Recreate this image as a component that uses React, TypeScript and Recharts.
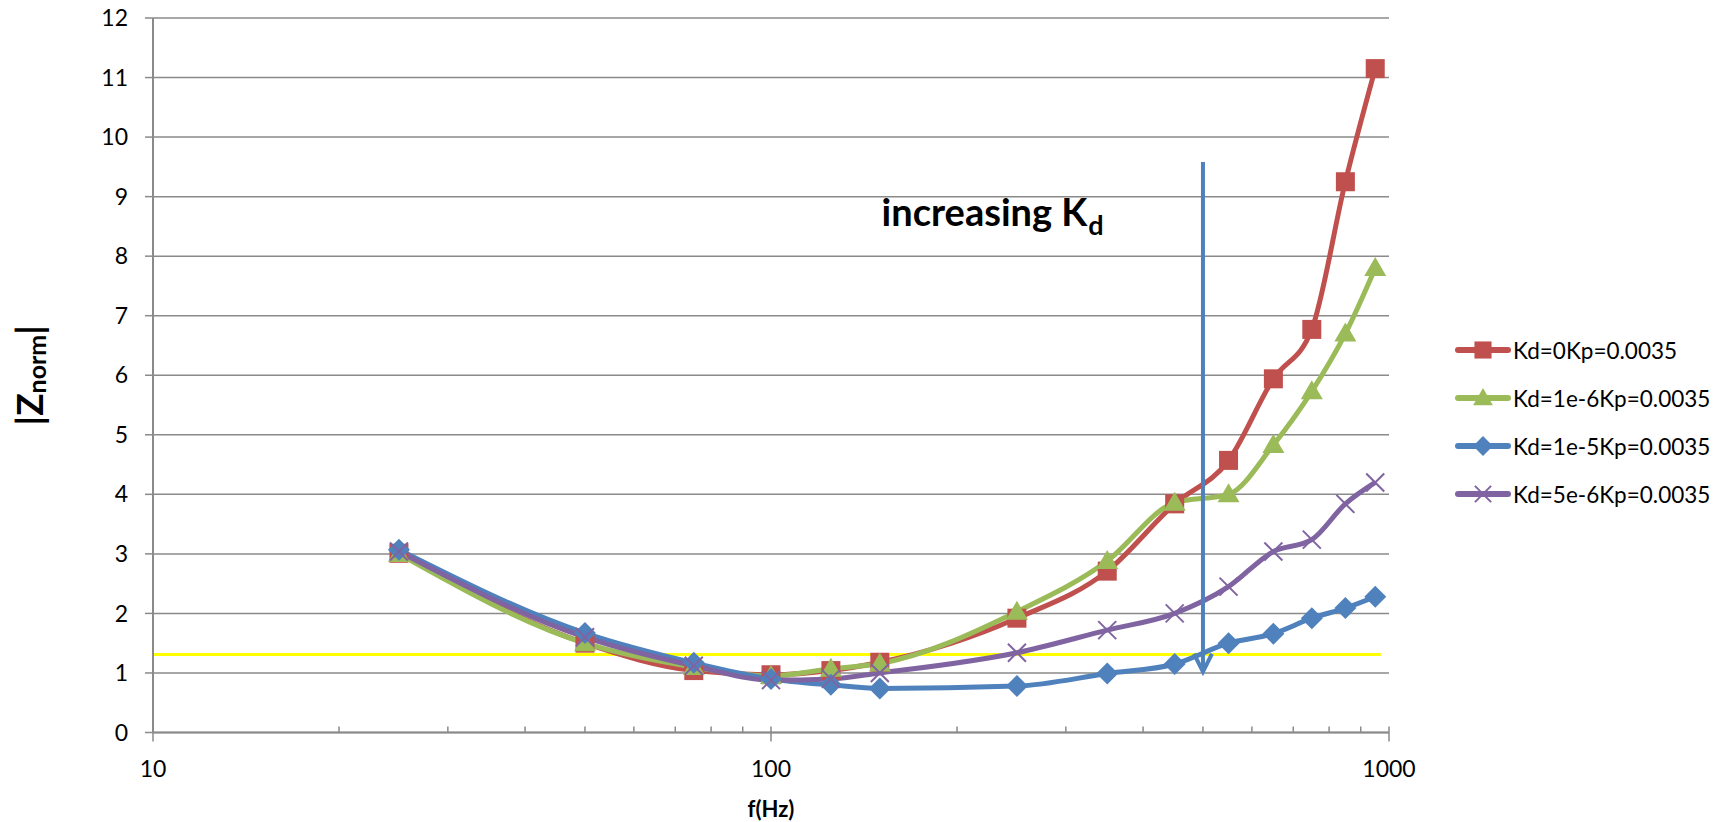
import React from "react";
import {
  LineChart,
  Line,
  XAxis,
  YAxis,
  CartesianGrid,
  ReferenceLine,
  ReferenceDot,
  Legend,
} from "recharts";

const freqs = [25, 50, 75, 100, 125, 150, 250, 350, 450, 550, 650, 750, 850, 950];
const kd0 = [3.01, 1.5, 1.04, 0.97, 1.04, 1.18, 1.92, 2.71, 3.84, 4.57, 5.94, 6.77, 9.25, 11.15];
const kd1e6 = [3.0, 1.5, 1.1, 0.95, 1.07, 1.16, 2.03, 2.88, 3.86, 4.0, 4.83, 5.73, 6.7, 7.8];
const kd1e5 = [3.07, 1.67, 1.17, 0.9, 0.8, 0.74, 0.78, 0.99, 1.15, 1.5, 1.66, 1.92, 2.09, 2.28];
const kd5e6 = [3.04, 1.6, 1.12, 0.88, 0.9, 1.0, 1.34, 1.72, 2.0, 2.45, 3.04, 3.24, 3.84, 4.2];

const seriesNames = [
  "Kd=0Kp=0.0035",
  "Kd=1e-6Kp=0.0035",
  "Kd=1e-5Kp=0.0035",
  "Kd=5e-6Kp=0.0035",
];

const xTicks = [10, 20, 30, 40, 50, 60, 70, 80, 90, 100, 200, 300, 400, 500, 600, 700, 800, 900, 1000];
const xMajor = [10, 100, 1000];
const yTicks = [0, 1, 2, 3, 4, 5, 6, 7, 8, 9, 10, 11, 12];

// yellow limit line and the "increasing Kd" arrow
const limitLevel = 1.31;
const limitEnd = 970;
const arrowFreq = 500;
const arrowTop = 9.58;
const arrowBottom = 1.02;
const noteFreq = 151;
const noteLevel = 8.5;

const FONT = "Lato, 'Open Sans', sans-serif";
const GRID = "#8a8a8a";
const COLORS = ["#C0504D", "#9BBB59", "#4F81BD", "#8064A2"];

const rows = freqs.map((f, i) => ({
  f,
  s0: kd0[i],
  s1: kd1e6[i],
  s2: kd1e5[i],
  s3: kd5e6[i],
}));

function Marker({ kind, cx, cy, color, s = 1 }: { kind: number; cx: number; cy: number; color: string; s?: number }) {
  if (kind === 0)
    return <rect x={cx - 9.5 * s} y={cy - 9.5 * s} width={19 * s} height={19 * s} fill={color} />;
  if (kind === 1)
    return (
      <polygon
        points={`${cx},${cy - 11 * s} ${cx + 11 * s},${cy + 8 * s} ${cx - 11 * s},${cy + 8 * s}`}
        fill={color}
      />
    );
  if (kind === 2)
    return (
      <polygon
        points={`${cx},${cy - 11 * s} ${cx + 11 * s},${cy} ${cx},${cy + 11 * s} ${cx - 11 * s},${cy}`}
        fill={color}
      />
    );
  return (
    <g stroke={color} strokeWidth={2}>
      <line x1={cx - 9 * s} y1={cy - 9 * s} x2={cx + 9 * s} y2={cy + 9 * s} />
      <line x1={cx - 9 * s} y1={cy + 9 * s} x2={cx + 9 * s} y2={cy - 9 * s} />
    </g>
  );
}

const dotFor = (kind: number) => (p: any) =>
  <Marker key={`m${kind}-${p.index}`} kind={kind} cx={p.cx} cy={p.cy} color={COLORS[kind]} />;

function FreqTick({ x, y, payload }: any) {
  const v = payload.value;
  const major = xMajor.includes(v);
  return (
    <g>
      <line x1={x} x2={x} y1={y - 6} y2={major ? y + 9 : y} stroke={GRID} strokeWidth={1.5} />
      {major && (
        <text x={x} y={y + 44} textAnchor="middle" fontSize={23} fontFamily={FONT} fill="#000">
          {v}
        </text>
      )}
    </g>
  );
}

function XTitle({ viewBox }: any) {
  return (
    <text
      x={viewBox.x + viewBox.width / 2}
      y={viewBox.y + 76}
      textAnchor="middle"
      dominantBaseline="central"
      fontSize={22}
      fontWeight="bold"
      fontFamily={FONT}
      fill="#000"
    >
      f(Hz)
    </text>
  );
}

function YTitle({ viewBox }: any) {
  const cx = viewBox.x + 28;
  const cy = viewBox.y + viewBox.height / 2;
  return (
    <text
      x={cx}
      y={cy}
      transform={`rotate(-90, ${cx}, ${cy})`}
      textAnchor="middle"
      dominantBaseline="central"
      fontSize={37}
      fontWeight="bold"
      fontFamily={FONT}
      fill="#000"
    >
      |Z
      <tspan fontSize={25} dy={8}>norm</tspan>
      <tspan dy={-8}>|</tspan>
    </text>
  );
}

function Arrow(p: any) {
  const { x1, y1, x2, y2 } = p;
  return (
    <g stroke={COLORS[2]} strokeWidth={4} fill="none">
      <line x1={x1} y1={y1} x2={x2} y2={y2} />
      <polyline points={`${x2 - 9},${y2 - 18} ${x2},${y2} ${x2 + 9},${y2 - 18}`} />
    </g>
  );
}

function Note(p: any) {
  return (
    <text x={p.cx} y={p.cy} fontSize={38} fontWeight="bold" fontFamily={FONT} fill="#000">
      increasing K
      <tspan fontSize={27} dy={9} dx={1}>d</tspan>
    </text>
  );
}

function LegendBox() {
  return (
    <div style={{ fontFamily: FONT, fontSize: 22.5, color: "#000" }}>
      {seriesNames.map((name, i) => (
        <div key={name} style={{ display: "flex", alignItems: "center", height: 48 }}>
          <svg width={56} height={24} style={{ display: "block" }}>
            <line x1={3} y1={12} x2={53} y2={12} stroke={COLORS[i]} strokeWidth={6} strokeLinecap="round" />
            <Marker kind={i} cx={28} cy={12} color={COLORS[i]} s={0.9} />
          </svg>
          <span style={{ marginLeft: 2, whiteSpace: "nowrap" }}>{name}</span>
        </div>
      ))}
    </div>
  );
}

export default function App() {
  return (
    <div style={{ position: "absolute", left: 0, top: 0, width: 1735, height: 822, background: "#fff" }}>
      <LineChart width={1735} height={822} data={rows} margin={{ top: 18, right: 346, bottom: 0, left: 0 }}>
        <CartesianGrid vertical={false} stroke={GRID} strokeWidth={1.5} />
        <XAxis
          dataKey="f"
          type="number"
          scale="log"
          domain={[10, 1000]}
          allowDataOverflow
          ticks={xTicks}
          interval={0}
          tickSize={0}
          tickMargin={0}
          tickLine={false}
          tick={<FreqTick />}
          axisLine={{ stroke: GRID, strokeWidth: 2 }}
          height={89.5}
          label={<XTitle />}
        />
        <YAxis
          type="number"
          domain={[0, 12]}
          ticks={yTicks}
          interval={0}
          width={153}
          tickSize={8}
          tickMargin={17}
          tick={{ fontSize: 23, fill: "#000", fontFamily: FONT }}
          tickLine={{ stroke: GRID, strokeWidth: 1.5 }}
          axisLine={{ stroke: GRID, strokeWidth: 2 }}
          label={<YTitle />}
        />
        <ReferenceLine
          segment={[
            { x: 10, y: limitLevel },
            { x: limitEnd, y: limitLevel },
          ]}
          stroke="#FFFF00"
          strokeWidth={3}
        />
        {["s0", "s1", "s2", "s3"].map((k, i) => (
          <Line
            key={k}
            dataKey={k}
            name={seriesNames[i]}
            type="monotone"
            stroke={COLORS[i]}
            strokeWidth={5}
            dot={dotFor(i)}
            activeDot={false}
            isAnimationActive={false}
          />
        ))}
        <ReferenceLine
          segment={[
            { x: arrowFreq, y: arrowTop },
            { x: arrowFreq, y: arrowBottom },
          ]}
          shape={<Arrow />}
        />
        <ReferenceDot x={noteFreq} y={noteLevel} r={0} shape={<Note />} />
        <Legend
          layout="vertical"
          align="center"
          verticalAlign="middle"
          wrapperStyle={{ left: 1455, top: 326, width: 280, height: 200 }}
          content={<LegendBox />}
        />
      </LineChart>
    </div>
  );
}
